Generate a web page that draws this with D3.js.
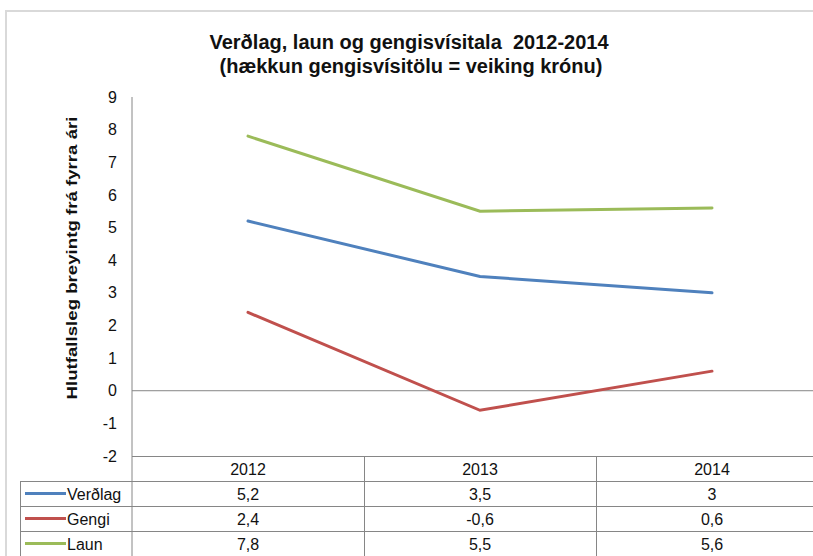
<!DOCTYPE html>
<html>
<head>
<meta charset="utf-8">
<script src="https://cdn.jsdelivr.net/npm/d3@7"></script>
<style>
  body { margin: 0; background: #fff; }
  text { font-family: "Liberation Sans", Arial, sans-serif; }
</style>
</head>
<body>
<script>
// data
const years = ["2012", "2013", "2014"];
const seriesNames = ["Verðlag", "Gengi", "Laun"];
const verdlag = [5.2, 3.5, 3];
const gengi = [2.4, -0.6, 0.6];
const laun = [7.8, 5.5, 5.6];
const colors = ["#4f81bd", "#c0504d", "#9bbb59"];
const yTicks = [-2, -1, 0, 1, 2, 3, 4, 5, 6, 7, 8, 9];

const series = [verdlag, gengi, laun].map((v, i) => ({name: seriesNames[i], values: v, color: colors[i]}));

const width = 813, height = 556;
const axisX = 132;
const rowH = 25;

const locale = d3.formatLocale({decimal: ",", thousands: ".", grouping: [3], currency: ["", ""], minus: "-"});
const fmt = locale.format("~g");

const svg = d3.select("body").append("svg")
  .attr("width", width)
  .attr("height", height);

// outer frame
svg.append("path")
  .attr("d", `M6,${height} V11 H${width}`)
  .attr("fill", "none")
  .attr("stroke", "#d9d9d9")
  .attr("stroke-width", 2);

// title
const title = svg.append("text")
  .attr("text-anchor", "middle")
  .attr("font-size", 20)
  .attr("font-weight", "bold")
  .attr("fill", "#111")
  .style("white-space", "pre");
title.append("tspan").attr("x", 409).attr("y", 49).text("Verðlag, laun og gengisvísitala  2012-2014");
title.append("tspan").attr("x", 411).attr("y", 73).text("(hækkun gengisvísitölu = veiking krónu)");

const x = d3.scaleBand().domain(years).range([axisX, axisX + 3 * 232]).padding(0);
const y = d3.scaleLinear().domain([-2, 9]).range([456, 97]);

// y axis
const yAxis = svg.append("g")
  .attr("transform", `translate(${axisX},0)`)
  .call(d3.axisLeft(y).tickValues(yTicks).tickSize(0).tickPadding(15).tickFormat(locale.format("d")));
yAxis.select(".domain").remove();
yAxis.selectAll("text").attr("font-size", 16).attr("fill", "#111")
  .attr("font-family", "Liberation Sans, Arial, sans-serif");

svg.append("line")
  .attr("x1", axisX).attr("x2", axisX)
  .attr("y1", y(9)).attr("y2", height)
  .attr("stroke", "#868686");

// zero line
svg.append("line")
  .attr("x1", axisX).attr("x2", width)
  .attr("y1", y(0)).attr("y2", y(0))
  .attr("stroke", "#868686");

svg.append("text")
  .attr("transform", "translate(77,258) rotate(-90)")
  .attr("text-anchor", "middle")
  .attr("font-size", 15)
  .attr("font-weight", "bold")
  .attr("fill", "#111")
  .attr("textLength", 283)
  .attr("lengthAdjust", "spacingAndGlyphs")
  .text("Hlutfallsleg breyintg frá fyrra ári");

// lines
const line = d3.line()
  .x((d, i) => x(years[i]) + x.bandwidth() / 2)
  .y(d => y(d));

svg.selectAll(".series")
  .data(series)
  .enter().append("path")
  .attr("class", "series")
  .attr("d", d => line(d.values))
  .attr("fill", "none")
  .attr("stroke", d => d.color)
  .attr("stroke-width", 3)
  .attr("stroke-linecap", "round");

// data table
const tableTop = y(-2);
const grid = svg.append("g").attr("stroke", "#868686").attr("fill", "none");

for (let r = 0; r <= 4; r++) {
  grid.append("line")
    .attr("x1", r === 0 ? axisX : 20).attr("x2", width)
    .attr("y1", tableTop + r * rowH + 0.5).attr("y2", tableTop + r * rowH + 0.5);
}
grid.append("line")
  .attr("x1", 20.5).attr("x2", 20.5)
  .attr("y1", tableTop + rowH).attr("y2", height);
years.forEach(yr => {
  grid.append("line")
    .attr("x1", x(yr) + x.bandwidth() + 0.5).attr("x2", x(yr) + x.bandwidth() + 0.5)
    .attr("y1", tableTop).attr("y2", height);
});

svg.selectAll(".yearLabel")
  .data(years)
  .enter().append("text")
  .attr("class", "yearLabel")
  .attr("x", d => x(d) + x.bandwidth() / 2)
  .attr("y", tableTop + rowH / 2 + 6)
  .attr("text-anchor", "middle")
  .attr("font-size", 16)
  .attr("fill", "#111")
  .text(d => d);

const rows = svg.selectAll(".row")
  .data(series)
  .enter().append("g")
  .attr("class", "row")
  .attr("transform", (d, i) => `translate(0,${tableTop + (i + 1) * rowH + rowH / 2})`);

rows.append("line")
  .attr("x1", 25).attr("x2", 66)
  .attr("y1", 0).attr("y2", 0)
  .attr("stroke", d => d.color)
  .attr("stroke-width", 3);

rows.append("text")
  .attr("x", 67).attr("y", 6)
  .attr("font-size", 16)
  .attr("fill", "#111")
  .text(d => d.name);

rows.selectAll(".val")
  .data(d => d.values)
  .enter().append("text")
  .attr("class", "val")
  .attr("x", (d, i) => x(years[i]) + x.bandwidth() / 2)
  .attr("y", 6)
  .attr("text-anchor", "middle")
  .attr("font-size", 16)
  .attr("fill", "#111")
  .text(d => fmt(d));
</script>
</body>
</html>
